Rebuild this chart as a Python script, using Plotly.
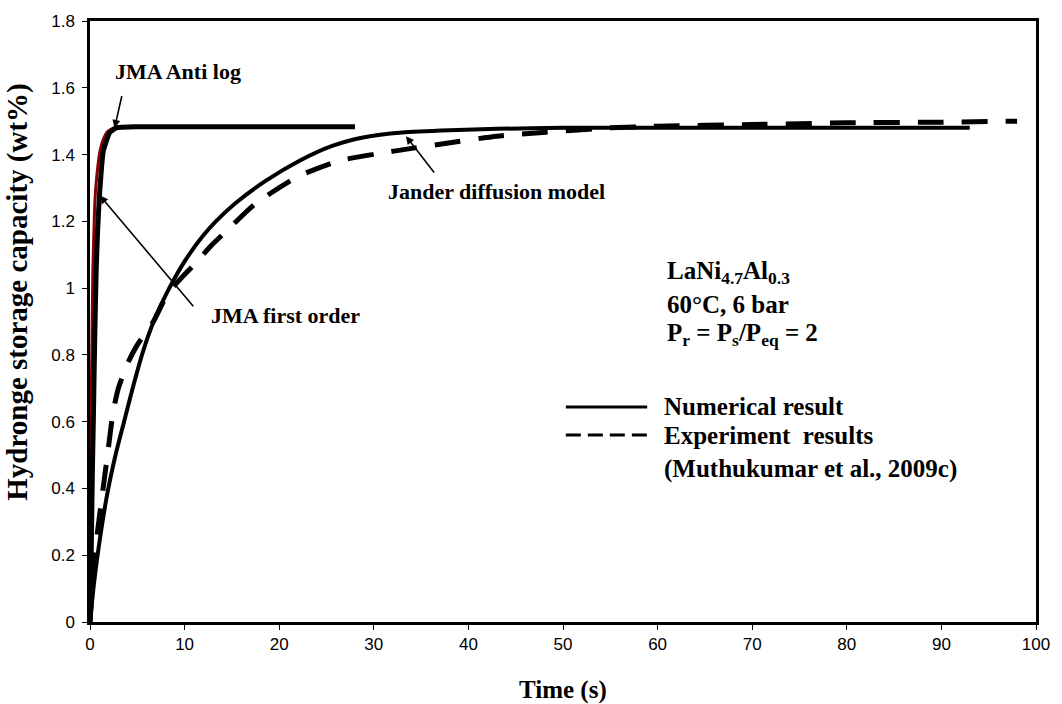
import plotly.graph_objects as go

# ---------------- data ----------------
jma_anti_t = [0, 0.05, 0.15, 0.3, 0.5, 0.7, 1.05, 1.4, 1.8, 2.5, 4, 28]
jma_anti_y = [0, 0.3, 0.7, 1.05, 1.25, 1.33, 1.41, 1.445, 1.467, 1.48, 1.483, 1.483]

jma_first_t = [0, 0.1, 0.25, 0.35, 0.5, 0.65, 0.8, 1.0, 1.4, 2.1, 2.8, 5, 28]
jma_first_y = [0, 0.15, 0.45, 0.6, 0.85, 1.05, 1.17, 1.277, 1.41, 1.467, 1.48, 1.483, 1.483]

jander_t = [0, 0.4, 0.9, 1.8, 2.7, 3.6, 4.6, 5.6, 6.8, 8.2, 10.0, 11.9, 13.3, 15.4,
            18.6, 22.1, 25.6, 29, 33, 38, 43, 50, 60, 70, 80, 93]
jander_y = [0, 0.11, 0.22, 0.38, 0.5, 0.6, 0.71, 0.81, 0.905, 0.99, 1.08, 1.155, 1.2, 1.255,
            1.322, 1.381, 1.426, 1.452, 1.466, 1.473, 1.477, 1.48, 1.48, 1.48, 1.48, 1.48]

exp_t = [0, 0.5, 1.2, 1.85, 2.45, 3.0, 3.9, 5.0, 6.7, 7.9, 9.0, 11.0, 12.8, 14.2, 17.5, 21.9,
         26.3, 32.3, 37.7, 43.0, 48.2, 55, 60, 70, 80, 90, 98]
exp_y = [0, 0.2, 0.36, 0.5, 0.63, 0.70, 0.77, 0.83, 0.90, 0.966, 1.01, 1.07, 1.127, 1.165, 1.253,
         1.333, 1.381, 1.411, 1.434, 1.455, 1.467, 1.48, 1.485, 1.49, 1.495, 1.497, 1.50]

x_ticks = [0, 10, 20, 30, 40, 50, 60, 70, 80, 90, 100]
y_ticks = [0, 0.2, 0.4, 0.6, 0.8, 1.0, 1.2, 1.4, 1.6, 1.8]

SERIF = "Liberation Serif"
SANS = "Liberation Sans"

fig = go.Figure()
fig.add_trace(go.Scatter(x=jander_t, y=jander_y, mode="lines",
                         line=dict(color="black", width=4, shape="spline", smoothing=0.6)))
fig.add_trace(go.Scatter(x=exp_t, y=exp_y, mode="lines",
                         line=dict(color="black", width=5, dash="26px,18px", shape="spline", smoothing=0.6)))
fig.add_trace(go.Scatter(x=jma_anti_t, y=jma_anti_y, mode="lines",
                         line=dict(color="#8B0000", width=3, shape="spline", smoothing=0.4)))
fig.add_trace(go.Scatter(x=jma_first_t, y=jma_first_y, mode="lines",
                         line=dict(color="black", width=5, shape="spline", smoothing=0.4)))

ann_font = dict(family=SERIF, size=22, color="black", weight="bold")
big_font = dict(family=SERIF, size=25, color="black", weight="bold")
arrow = dict(showarrow=True, arrowhead=2, arrowsize=1, arrowwidth=1.6, arrowcolor="black",
             text="", xref="x", yref="y", axref="x", ayref="y")

annotations = [
    # arrows + labels
    dict(x=2.6, y=1.48, ax=3.4, ay=1.58, **arrow),
    dict(x=2.4, y=1.65, xref="x", yref="y", text="JMA Anti log", showarrow=False,
         xanchor="left", font=ann_font),
    dict(x=1.05, y=1.277, ax=11.05, ay=0.941, **arrow),
    dict(x=12.6, y=0.918, xref="x", yref="y", text="JMA first order", showarrow=False,
         xanchor="left", font=ann_font),
    dict(x=33.4, y=1.455, ax=36.5, ay=1.342, **arrow),
    dict(x=31.3, y=1.289, xref="x", yref="y", text="Jander diffusion model", showarrow=False,
         xanchor="left", font=ann_font),
    # condition text
    dict(x=60.8, y=1.046, xref="x", yref="y", text="LaNi<sub>4.7</sub>Al<sub>0.3</sub>",
         showarrow=False, xanchor="left", font=big_font),
    dict(x=60.8, y=0.952, xref="x", yref="y", text="60°C, 6 bar",
         showarrow=False, xanchor="left", font=big_font),
    dict(x=60.8, y=0.86, xref="x", yref="y", text="P<sub>r</sub> = P<sub>s</sub>/P<sub>eq</sub> = 2",
         showarrow=False, xanchor="left", font=big_font),
    # legend texts
    dict(x=60.5, y=0.644, xref="x", yref="y", text="Numerical result",
         showarrow=False, xanchor="left", font=big_font),
    dict(x=60.5, y=0.56, xref="x", yref="y", text="Experiment  results",
         showarrow=False, xanchor="left", font=big_font),
    dict(x=60.5, y=0.457, xref="x", yref="y", text="(Muthukumar et al., 2009c)",
         showarrow=False, xanchor="left", font=big_font),
    # axis titles
    dict(x=0.5, y=-0.113, xref="paper", yref="paper", text="Time (s)", showarrow=False,
         xanchor="center", yanchor="middle", font=big_font),
    dict(x=-0.076, y=0.548, xref="paper", yref="paper", text="Hydronge storage capacity (wt%)",
         showarrow=False, textangle=-90, xanchor="center", yanchor="middle",
         font=dict(family=SERIF, size=29, color="black", weight="bold")),
]

shapes = [
    dict(type="line", xref="x", yref="y", x0=50.3, x1=58.9, y0=0.644, y1=0.644,
         line=dict(color="black", width=3)),
    dict(type="line", xref="x", yref="y", x0=50.3, x1=58.9, y0=0.56, y1=0.56,
         line=dict(color="black", width=3, dash="15px,7px")),
]

fig.update_layout(
    width=1062, height=704,
    margin=dict(l=90, r=22, t=16, b=82),
    paper_bgcolor="white", plot_bgcolor="white",
    showlegend=False,
    annotations=annotations, shapes=shapes,
    xaxis=dict(range=[0, 100], tickvals=x_ticks, showgrid=False, zeroline=False,
               showline=True, linecolor="black", linewidth=2.5, mirror=True,
               ticks="outside", ticklen=5, tickcolor="black", tickwidth=1,
               tickfont=dict(family=SANS, size=17, color="black")),
    yaxis=dict(range=[0, 1.8], tickvals=y_ticks, showgrid=False, zeroline=False,
               showline=True, linecolor="black", linewidth=2.5, mirror=True,
               ticks="outside", ticklen=5, tickcolor="black", tickwidth=1,
               ticklabelstandoff=4,
               tickfont=dict(family=SANS, size=17, color="black")),
)

fig.write_html("out.html")
